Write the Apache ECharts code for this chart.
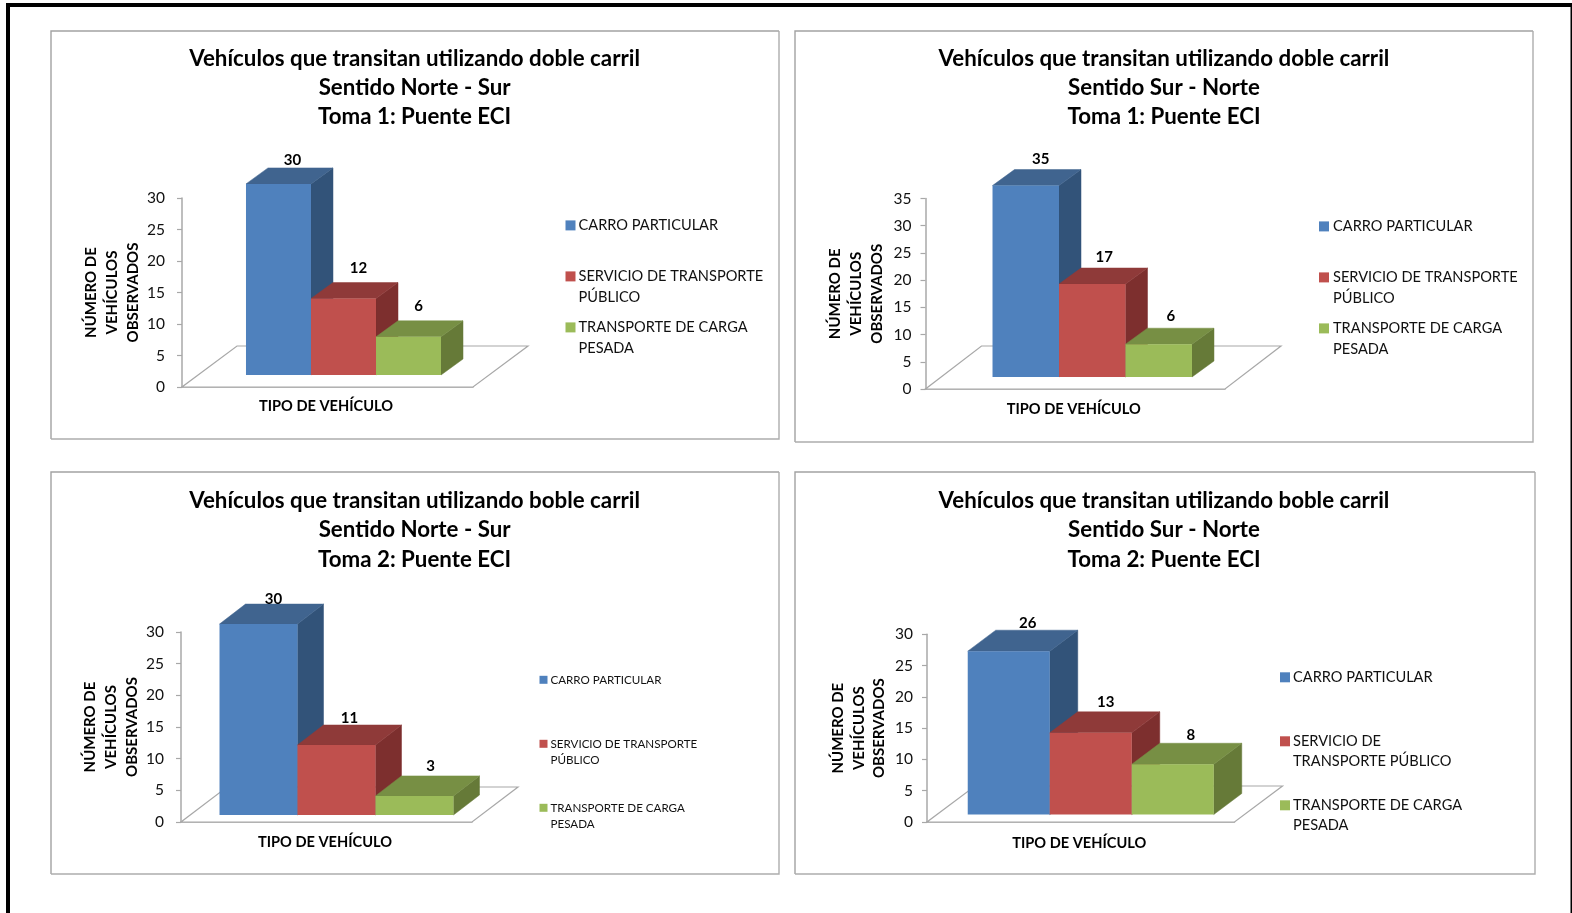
<!DOCTYPE html>
<html lang="es">
<head>
<meta charset="utf-8">
<title>Vehículos que transitan utilizando doble carril</title>
<style>
  html, body { margin: 0; padding: 0; background: #fff; }
  #chart { width: 1572px; height: 913px; }
</style>
<script src="https://cdn.jsdelivr.net/npm/echarts@6/dist/echarts.min.js"></script>
</head>
<body>
<div id="chart"></div>
<script>
// Vehicle counts per type, for each direction and survey round
const vehicleTypes = ['CARRO PARTICULAR', 'SERVICIO DE TRANSPORTE PÚBLICO', 'TRANSPORTE DE CARGA PESADA'];
const categoryLabel = ['TIPO DE VEHÍCULO'];
const toma1NorteSur = [30, 12, 6];
const toma1SurNorte = [35, 17, 6];
const toma2NorteSur = [30, 11, 3];
const toma2SurNorte = [26, 13, 8];
const axisMaxima = [30, 35, 30, 30];

const titles = [
  'Vehículos que transitan utilizando doble carril\nSentido Norte - Sur\nToma 1: Puente ECI',
  'Vehículos que transitan utilizando doble carril\nSentido Sur - Norte\nToma 1: Puente ECI',
  'Vehículos que transitan utilizando boble carril\nSentido Norte - Sur\nToma 2: Puente ECI',
  'Vehículos que transitan utilizando boble carril\nSentido Sur - Norte\nToma 2: Puente ECI'
];
const legendWrapWide = ['CARRO PARTICULAR\n ', 'SERVICIO DE TRANSPORTE\nPÚBLICO', 'TRANSPORTE DE CARGA\nPESADA'];
const legendWrapNarrow = ['CARRO PARTICULAR\n ', 'SERVICIO DE\nTRANSPORTE PÚBLICO', 'TRANSPORTE DE CARGA\nPESADA'];

const FONT = 'Lato, "Open Sans", sans-serif';
const TEXT = '#111';
const LINE = '#a8a8a8';

// Front, top and side shades of each box
const shades = [
  { front: '#4f81bd', top: '#40648f', side: '#325379' },
  { front: '#c0504d', top: '#8f3a39', side: '#7d2f2e' },
  { front: '#9bbb59', top: '#778f44', side: '#667a38' }
];

// Panel geometry: frame, plot rectangle, oblique projection and legend placement
const panels = [
  {
    values: toma1NorteSur, wrap: legendWrapWide,
    frame: [51, 31, 728, 408], titleX: 414.6, titleTop: 44,
    plot: [182, 198, 291, 189],
    floor: [55, 41], lift: [16, 12], depth: [22, 16], barRatio: 0.2234, rise: 1.011,
    labelShift: [[3, -8], [4, -14], [-1, -15]], tickMargin: 17, nameGap: 38.5, xNameGap: 12,
    legend: { left: 565.5, first: 225.4, pitch: 51, lh: 21, size: 14.6, mark: 10, nudge: 2 }
  },
  {
    values: toma1SurNorte, wrap: legendWrapWide,
    frame: [795, 31, 738, 411], titleX: 1164, titleTop: 44,
    plot: [925.5, 198.5, 299.5, 190.5],
    floor: [56, 43], lift: [17, 12], depth: [22, 16], barRatio: 0.222, rise: 1.005,
    labelShift: [[4, -10], [1, -11], [1, -12]], tickMargin: 14, nameGap: 38, xNameGap: 13,
    legend: { left: 1319, first: 226.4, pitch: 51, lh: 20.7, size: 14.6, mark: 10, nudge: 1 }
  },
  {
    values: toma2NorteSur, wrap: legendWrapWide,
    frame: [51, 472, 728, 402], titleX: 414.6, titleTop: 486.5,
    plot: [181, 632, 291, 190],
    floor: [46, 35], lift: [10, 7], depth: [26, 20], barRatio: 0.268, rise: 1.005,
    labelShift: [[2, -5], [0, -7], [3, -10]], tickMargin: 17, nameGap: 37.5, xNameGap: 13,
    legend: { left: 539.5, first: 679.8, pitch: 64, lh: 16.4, size: 11.6, mark: 8, nudge: 2 }
  },
  {
    values: toma2SurNorte, wrap: legendWrapNarrow,
    frame: [795, 472, 740, 402], titleX: 1164, titleTop: 486.5,
    plot: [927, 634.3, 307.5, 187.7],
    floor: [48, 36], lift: [10, 7.5], depth: [28, 21], barRatio: 0.2667, rise: 1.004,
    labelShift: [[5, -7], [1, -10], [4, -8]], tickMargin: 14, nameGap: 37, xNameGap: 14,
    legend: { left: 1280, first: 677.3, pitch: 64, lh: 20, size: 14.6, mark: 10, nudge: 2 }
  }
];

// A square placed on the first text line of a two-line legend row
function markerIcon(lh, s) {
  const h = lh * 2, a = lh / 2 - s / 2, b = lh / 2 + s / 2;
  return `path://M0 0L0 0M0 ${a}L${s} ${a}L${s} ${b}L0 ${b}ZM${s} ${h}L${s} ${h}`;
}

// Ground plane under the boxes, drawn in the oblique projection
function renderFloor(panel) {
  return function (params, api) {
    const cs = params.coordSys;
    const y0 = api.coord([0, 0])[1];
    const xL = cs.x, xR = cs.x + cs.width;
    const [dx, dy] = panel.floor;
    return {
      type: 'polygon',
      shape: { points: [[xL, y0], [xR, y0], [xR + dx, y0 - dy], [xL + dx, y0 - dy]] },
      style: { fill: '#fff', stroke: LINE, lineWidth: 1.2 },
      silent: true
    };
  };
}

// One oblique box per vehicle type, sized through the value axis
function renderBox(panel, index) {
  return function (params, api) {
    const value = api.value(1);
    const center = api.coord([0, 0]);
    const w = api.size([1, 0])[0] * panel.barRatio;
    const [liftX, liftY] = panel.lift;
    const [dx, dy] = panel.depth;
    const yBase = center[1] - liftY;
    const h = (center[1] - api.coord([0, value])[1]) * panel.rise;
    const yTop = yBase - h;
    const x0 = center[0] + liftX + (index - 1.5) * w;
    const x1 = x0 + w;
    const tone = shades[index];
    const [sx, sy] = panel.labelShift[index];
    return {
      type: 'group',
      children: [
        {
          type: 'polygon',
          shape: { points: [[x1, yBase], [x1 + dx, yBase - dy], [x1 + dx, yTop - dy], [x1, yTop]] },
          style: { fill: tone.side, stroke: tone.side, lineWidth: 0.5 }
        },
        {
          type: 'polygon',
          shape: { points: [[x0, yTop], [x0 + dx, yTop - dy], [x1 + dx, yTop - dy], [x1, yTop]] },
          style: { fill: tone.top, stroke: tone.top, lineWidth: 0.5 }
        },
        {
          type: 'rect',
          shape: { x: x0, y: yTop, width: w, height: h },
          style: { fill: tone.front }
        },
        {
          type: 'text',
          x: (x0 + x1 + dx) / 2 + sx,
          y: yTop - dy + sy,
          style: {
            text: String(value),
            font: `bold 15px ${FONT}`,
            fill: '#000',
            align: 'center',
            verticalAlign: 'middle'
          }
        }
      ]
    };
  };
}

const option = {
  backgroundColor: '#fff',
  animation: false,
  title: [],
  legend: [],
  grid: [],
  xAxis: [],
  yAxis: [],
  series: [],
  graphic: [
    { type: 'rect', shape: { x: 6, y: 3, width: 1566, height: 4 }, style: { fill: '#000' } },
    { type: 'rect', shape: { x: 6, y: 3, width: 4, height: 910 }, style: { fill: '#000' } },
    { type: 'rect', shape: { x: 1570.5, y: 3, width: 1.5, height: 910 }, style: { fill: '#000' } }
  ]
};

panels.forEach(function (panel, p) {
  const [fx, fy, fw, fh] = panel.frame;
  option.graphic.push(
    {
      type: 'polyline',
      shape: { points: [[fx, fy + fh], [fx, fy], [fx + fw, fy]] },
      style: { fill: 'none', stroke: '#a2a2a2', lineWidth: 1.4 }
    },
    {
      type: 'polyline',
      shape: { points: [[fx + fw, fy], [fx + fw, fy + fh], [fx, fy + fh]] },
      style: { fill: 'none', stroke: '#adadad', lineWidth: 1.4 }
    }
  );

  option.title.push({
    text: titles[p],
    left: panel.titleX,
    top: panel.titleTop,
    padding: 0,
    textAlign: 'center',
    textStyle: { fontFamily: FONT, fontSize: 22.3, fontWeight: 'bold', color: '#000', lineHeight: 29.2 }
  });

  const [gx, gy, gw, gh] = panel.plot;
  option.grid.push({ left: gx, top: gy, width: gw, height: gh });

  option.xAxis.push({
    type: 'category',
    gridIndex: p,
    data: categoryLabel,
    name: categoryLabel[0],
    nameLocation: 'middle',
    nameGap: panel.xNameGap,
    nameTextStyle: { fontFamily: FONT, fontSize: 14.6, fontWeight: 'bold', color: '#000', padding: [0, 3, 0, 0] },
    axisLine: { lineStyle: { color: LINE, width: 1.5 } },
    axisTick: { show: false },
    axisLabel: { show: false },
    splitLine: { show: false }
  });

  option.yAxis.push({
    type: 'value',
    gridIndex: p,
    min: 0,
    max: axisMaxima[p],
    interval: 5,
    name: 'NÚMERO DE\nVEHÍCULOS\nOBSERVADOS',
    nameLocation: 'middle',
    nameRotate: 90,
    nameGap: panel.nameGap,
    nameTextStyle: { fontFamily: FONT, fontSize: 15, fontWeight: 'bold', color: '#000', lineHeight: 20.8, align: 'center' },
    axisLine: { show: true, lineStyle: { color: LINE, width: 1.5 } },
    axisTick: { show: true, length: 5, lineStyle: { color: LINE, width: 1.2 } },
    axisLabel: { fontFamily: FONT, fontSize: 15.5, color: TEXT, margin: panel.tickMargin, padding: [4, 0, 0, 0] },
    splitLine: { show: false }
  });

  option.series.push({
    type: 'custom',
    name: 'plano',
    xAxisIndex: p,
    yAxisIndex: p,
    coordinateSystem: 'cartesian2d',
    renderItem: renderFloor(panel),
    data: [[0, 0]],
    silent: true,
    clip: false
  });

  vehicleTypes.forEach(function (name, i) {
    option.series.push({
      type: 'custom',
      name: name,
      xAxisIndex: p,
      yAxisIndex: p,
      coordinateSystem: 'cartesian2d',
      renderItem: renderBox(panel, i),
      encode: { x: 0, y: 1 },
      itemStyle: { color: shades[i].front },
      data: [[0, panel.values[i]]],
      clip: false
    });
  });

  const lg = panel.legend;
  const rowHeight = lg.lh * 2;
  const wrap = panel.wrap;
  option.legend.push({
    orient: 'vertical',
    left: lg.left,
    top: lg.first - lg.lh / 2,
    padding: 0,
    itemWidth: lg.mark,
    itemHeight: rowHeight,
    itemGap: lg.pitch - rowHeight,
    selectedMode: false,
    data: vehicleTypes.map(function (name) {
      return { name: name, icon: markerIcon(lg.lh, lg.mark) };
    }),
    formatter: function (name) { return wrap[vehicleTypes.indexOf(name)]; },
    textStyle: {
      fontFamily: FONT, fontSize: lg.size, color: TEXT, lineHeight: lg.lh,
      padding: [0, 0, 0, -lg.nudge]
    }
  });
});

echarts.init(document.getElementById('chart')).setOption(option);
</script>
</body>
</html>
